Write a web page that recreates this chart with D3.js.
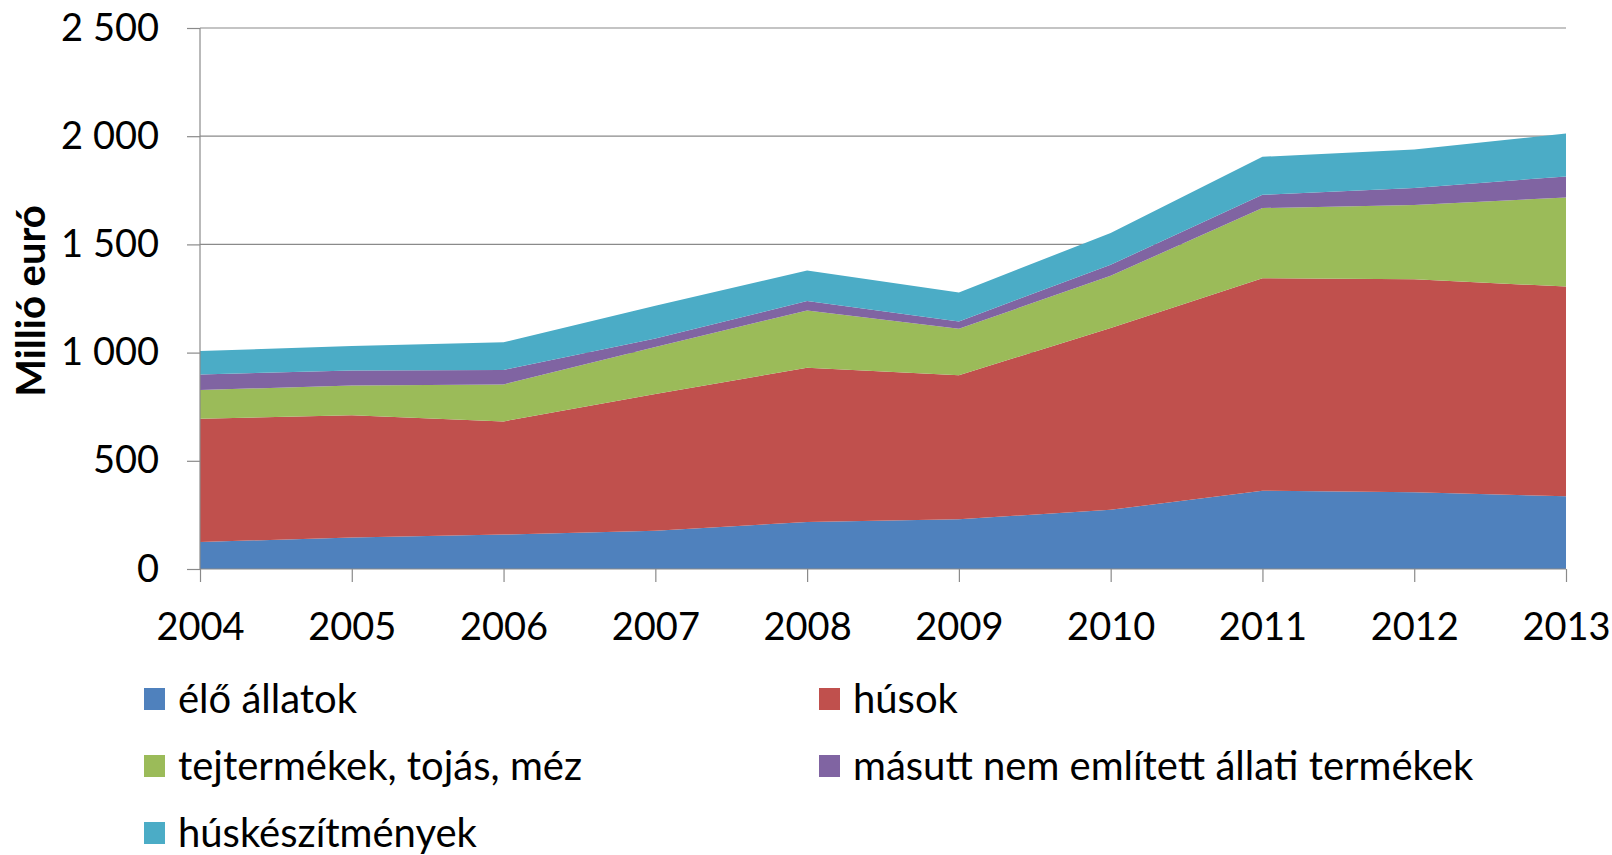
<!DOCTYPE html>
<html>
<head>
<meta charset="utf-8">
<script src="https://cdn.jsdelivr.net/npm/d3@7"></script>
<style>
  html, body { margin: 0; padding: 0; background: #fff; }
  svg { display: block; }
  text { font-family: Lato, "Open Sans", sans-serif; fill: #000; }
</style>
</head>
<body>
<svg id="chart" width="1612" height="855"></svg>
<script>
const years = ["2004","2005","2006","2007","2008","2009","2010","2011","2012","2013"];
const seriesNames = ["élő állatok","húsok","tejtermékek, tojás, méz","másutt nem említett állati termékek","húskészítmények"];
const eloAllatok       = [125, 145, 159, 177, 217, 230, 274, 362, 355, 336];
const husok            = [569, 565, 523, 632, 713, 665, 840, 982, 984, 969];
const tejtermekek      = [133, 138, 171, 217, 265, 215, 241, 324, 343, 412];
const masuttNem        = [72, 69, 67, 39, 43, 34, 51, 61, 79, 97];
const huskeszitmenyek  = [108, 113, 128, 151, 141, 134, 147, 176, 177, 198];
const yTicks = [0, 500, 1000, 1500, 2000, 2500];
const colors = ["#4F81BD", "#C0504D", "#9BBB59", "#8064A2", "#4BACC6"];

const seriesValues = [eloAllatok, husok, tejtermekek, masuttNem, huskeszitmenyek];
const keys = seriesNames;
const table = years.map((yr, i) => {
  const row = { year: yr };
  keys.forEach((k, j) => row[k] = seriesValues[j][i]);
  return row;
});

const svg = d3.select("#chart");
const mLeft = 200, mRight = 1566, mTop = 28, mBottom = 569;

const x = d3.scalePoint().domain(years).range([mLeft, mRight]);
const y = d3.scaleLinear().domain([0, 2500]).range([mBottom, mTop]);

const fmtTick = v => {
  const s = String(v);
  return s.length > 3 ? s.slice(0, s.length - 3) + " " + s.slice(-3) : s;
};

// gridlines
svg.append("g").selectAll("line").data(yTicks.filter(d => d > 0)).join("line")
  .attr("x1", mLeft).attr("x2", mRight)
  .attr("y1", d => y(d)).attr("y2", d => y(d))
  .attr("stroke", "#8a8a8a").attr("stroke-width", 1.2);

// stacked areas
const stacked = d3.stack().keys(keys)(table);
const area = d3.area()
  .x(d => x(d.data.year))
  .y0(d => y(d[0]))
  .y1(d => y(d[1]));
svg.append("g").selectAll("path").data(stacked).join("path")
  .attr("d", area)
  .attr("fill", (d, i) => colors[i]);

// y axis
const yAxis = d3.axisLeft(y).tickValues(yTicks).tickSize(13).tickPadding(28).tickFormat(fmtTick);
const gy = svg.append("g").attr("transform", `translate(${mLeft},0)`).call(yAxis);
gy.select(".domain").attr("stroke", "#8a8a8a").attr("stroke-width", 1.2).attr("d", `M0,${mBottom}V${mTop}`);
gy.selectAll(".tick line").attr("stroke", "#8a8a8a").attr("stroke-width", 1.2);
gy.selectAll(".tick text").attr("font-size", 38).attr("font-family", "Lato, sans-serif").attr("fill", "#000");

// x axis
const xAxis = d3.axisBottom(x).tickSize(13).tickPadding(31);
const gx = svg.append("g").attr("transform", `translate(0,${mBottom})`).call(xAxis);
gx.select(".domain").attr("stroke", "#8a8a8a").attr("stroke-width", 1.2).attr("d", `M${mLeft},0H${mRight}`);
gx.selectAll(".tick line").attr("stroke", "#8a8a8a").attr("stroke-width", 1.2);
gx.selectAll(".tick text").attr("font-size", 38).attr("font-family", "Lato, sans-serif").attr("fill", "#000");

// y label
svg.append("text")
  .attr("transform", `translate(45,301) rotate(-90)`)
  .attr("text-anchor", "middle")
  .attr("font-size", 40)
  .attr("font-weight", "bold")
  .text("Millió euró");

// legend
const legendPos = [
  [144, 699], [819, 699],
  [144, 766], [819, 766],
  [144, 833]
];
const lg = svg.append("g").selectAll("g").data(seriesNames).join("g")
  .attr("transform", (d, i) => `translate(${legendPos[i][0]},${legendPos[i][1]})`);
lg.append("rect").attr("x", 0).attr("y", -11).attr("width", 21).attr("height", 22)
  .attr("fill", (d, i) => colors[i]);
lg.append("text").attr("x", 34).attr("y", 0).attr("dy", "0.35em")
  .attr("font-size", 40).text(d => d);
</script>
</body>
</html>
